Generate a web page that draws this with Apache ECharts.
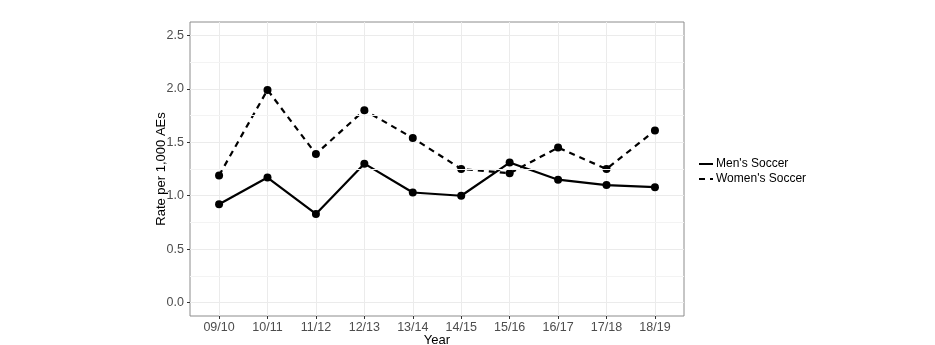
<!DOCTYPE html>
<html><head><meta charset="utf-8">
<script src="https://cdn.jsdelivr.net/npm/echarts@6/dist/echarts.min.js"></script>
<style>html,body{margin:0;padding:0;background:#fff}#c{width:935px;height:345px}</style>
</head><body><div id="c"></div>
<script>
const years = ["09/10","10/11","11/12","12/13","13/14","14/15","15/16","16/17","17/18","18/19"];
const mens = [0.92,1.17,0.83,1.30,1.03,1.00,1.31,1.15,1.10,1.08];
const womens = [1.19,1.99,1.39,1.80,1.54,1.25,1.21,1.45,1.25,1.61];
const yTicks = [0,0.5,1.0,1.5,2.0,2.5];
const yMinor = [0.25,0.75,1.25,1.75,2.25];
const FONT = "Liberation Sans";

const idx = years.map((_, i) => i);
const pairs = arr => arr.map((v, i) => [i, v]);

const chart = echarts.init(document.getElementById('c'), null, {renderer:'canvas'});
chart.setOption({
  animation:false,
  backgroundColor:'#fff',
  textStyle:{fontFamily:FONT},
  grid:{left:190,right:251,top:22,bottom:29,show:true,borderColor:'#8c8c8c',borderWidth:1,backgroundColor:'transparent',
        containLabel:false,outerBoundsMode:'none'},
  legend:{
    orient:'vertical', left:693, top:153, itemWidth:14, itemHeight:10, itemGap:3,
    data:["Men's Soccer","Women's Soccer"],
    itemStyle:{opacity:0},
    textStyle:{fontFamily:FONT,fontSize:12,color:'#000',padding:[0,0,0,-2]}
  },
  xAxis:{
    type:'value', min:-0.6, max:9.6,
    name:'Year', nameLocation:'middle', nameGap:18, nameMoveOverlap:false,
    nameTextStyle:{fontFamily:FONT,fontSize:13,color:'#000'},
    axisLine:{show:false,onZero:false},
    axisTick:{show:true,length:3,lineStyle:{color:'#333'},customValues:idx},
    axisLabel:{customValues:idx,margin:5,fontSize:12.5,color:'#4d4d4d',fontFamily:FONT,formatter:v=>years[Math.round(v)]},
    splitLine:{show:true,lineStyle:{color:'#ebebeb',width:1}}
  },
  yAxis:{
    type:'value', min:-0.125, max:2.625,
    name:'Rate per 1,000 AEs', nameLocation:'middle', nameGap:22, nameRotate:90, nameMoveOverlap:false,
    nameTextStyle:{fontFamily:FONT,fontSize:13,color:'#000'},
    axisLine:{show:false,onZero:false},
    axisTick:{show:true,length:3,lineStyle:{color:'#333'},customValues:yTicks},
    axisLabel:{customValues:yTicks,margin:6,fontSize:12.5,color:'#4d4d4d',fontFamily:FONT,formatter:v=>v.toFixed(1)},
    splitLine:{show:true,lineStyle:{color:'#ebebeb',width:1}}
  },
  series:[
    {type:'line',name:'minor',data:[],z:1,silent:true,
     markLine:{silent:true,symbol:'none',label:{show:false},
       lineStyle:{color:'#f3f3f3',width:1,type:'solid'},
       data:yMinor.map(v=>({yAxis:v}))}},
    {type:'line',name:"Men's Soccer",data:pairs(mens),symbol:'none',z:3,
     lineStyle:{color:'#000',width:2.2,type:'solid'},itemStyle:{color:'#000'}},
    {type:'line',name:"Women's Soccer",data:pairs(womens),symbol:'none',z:3,
     lineStyle:{color:'#000',width:2.2,type:[6,5]},itemStyle:{color:'#000'}},
    {type:'scatter',name:'mp',data:pairs(mens),symbolSize:8,itemStyle:{color:'#000',opacity:1},z:4},
    {type:'scatter',name:'wp',data:pairs(womens),symbolSize:8,itemStyle:{color:'#000',opacity:1},z:4}
  ]
});
</script></body></html>
